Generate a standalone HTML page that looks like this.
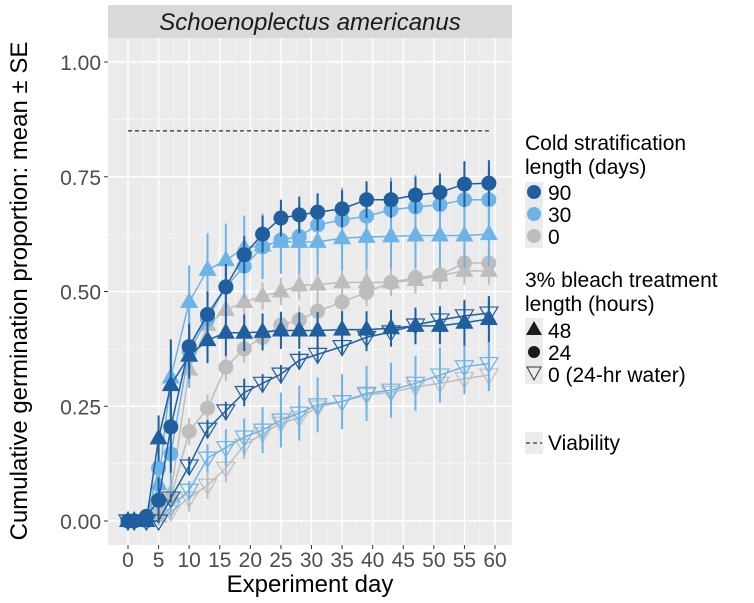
<!DOCTYPE html>
<html><head><meta charset="utf-8"><style>
body{margin:0;background:#fff;}
svg{display:block;font-family:"Liberation Sans",Arial,sans-serif;}
</style></head><body>
<svg id="chart" width="754" height="603" viewBox="0 0 754 603">
<rect x="108" y="5" width="404" height="33" fill="#d9d9d9"/>
<text x="310" y="30" text-anchor="middle" font-size="24" font-style="italic" fill="#1a1a1a">Schoenoplectus americanus</text>
<rect x="108" y="38" width="404" height="507" fill="#ebebeb"/>
<g id="grid"></g>
<g id="marks"></g>
<g id="axes"></g>
<text x="310" y="592" text-anchor="middle" font-size="24" fill="#000">Experiment day</text>
<text transform="translate(27,291) rotate(-90)" text-anchor="middle" font-size="24" fill="#000">Cumulative germination proportion: mean ± SE</text>
<g id="legend" font-size="21" fill="#000">
<text x="525" y="150">Cold stratification</text>
<text x="525" y="174">length (days)</text>
<rect x="525" y="182" width="18" height="66" fill="#ebebeb"/>
<circle cx="534" cy="192" r="7" fill="#1f5f9f"/>
<circle cx="534" cy="214" r="7" fill="#6cb3e8"/>
<circle cx="534" cy="236" r="7" fill="#bdbdbd"/>
<text x="548" y="200">90</text>
<text x="548" y="222">30</text>
<text x="548" y="244">0</text>
<text x="525" y="287">3% bleach treatment</text>
<text x="525" y="311">length (hours)</text>
<rect x="525" y="318" width="18" height="66" fill="#ebebeb"/>
<polygon points="534,321 542,335 526,335" fill="#1a1a1a"/>
<circle cx="534" cy="352" r="6" fill="#1a1a1a"/>
<polygon points="527,367 541,367 534,380" fill="none" stroke="#333" stroke-width="1"/>
<text x="548" y="338">48</text>
<text x="548" y="360">24</text>
<text x="548" y="382">0 (24-hr water)</text>
<rect x="525" y="432" width="18" height="22" fill="#ebebeb"/>
<line x1="526" y1="443" x2="542" y2="443" stroke="#000" stroke-dasharray="4,3"/>
<text x="548" y="450">Viability</text>
</g>
</svg>
<script>
const days = [0,1,3,5,7,10,13,16,19,22,25,28,31,35,39,43,47,51,55,59];
const xTicks = [0,5,10,15,20,25,30,35,40,45,50,55,60];
const yTicks = [0,0.25,0.5,0.75,1];
const yTickLabels = ["0.00","0.25","0.50","0.75","1.00"];
const viability = 0.85;
const colors = {"90":"#1f5f9f","30":"#6cb3e8","0":"#bdbdbd"};
const c90_24 = [0,0,0.01,0.045,0.205,0.38,0.45,0.51,0.58,0.625,0.66,0.667,0.673,0.68,0.70,0.70,0.71,0.716,0.734,0.736];
const c30_24 = [0,0,0,0.115,0.146,0.37,0.44,0.51,0.555,0.597,0.612,0.62,0.645,0.656,0.664,0.678,0.684,0.689,0.70,0.70];
const c0_24  = [0,0,0,0.02,0.05,0.195,0.246,0.335,0.375,0.40,0.427,0.438,0.457,0.477,0.498,0.52,0.53,0.536,0.562,0.562];
const c90_48 = [0,0,0,0.18,0.296,0.36,0.394,0.41,0.41,0.412,0.415,0.415,0.415,0.417,0.417,0.42,0.425,0.425,0.432,0.44];
const c30_48 = [0,0,0,0.08,0.313,0.477,0.547,0.568,0.595,0.60,0.608,0.608,0.608,0.616,0.619,0.62,0.622,0.622,0.622,0.625];
const c0_48  = [0,0,0,0.01,0.06,0.33,0.427,0.46,0.477,0.49,0.50,0.513,0.515,0.52,0.52,0.52,0.525,0.535,0.545,0.545];
const c90_0  = [0,0,0,0,0.05,0.12,0.20,0.24,0.28,0.30,0.32,0.35,0.363,0.38,0.40,0.412,0.427,0.438,0.447,0.453];
const c30_0  = [0,0,0,0,0.03,0.067,0.137,0.16,0.183,0.198,0.22,0.235,0.253,0.26,0.278,0.285,0.30,0.318,0.336,0.343];
const c0_0   = [0,0,0,0,0.02,0.05,0.078,0.115,0.165,0.19,0.213,0.225,0.248,0.26,0.275,0.28,0.292,0.30,0.31,0.318];
const se90 = [0,0,0.01,0.05,0.1,0.05,0.05,0.05,0.04,0.04,0.04,0.04,0.04,0.04,0.04,0.04,0.04,0.04,0.05,0.05];
const se30 = [0,0,0.01,0.05,0.08,0.08,0.08,0.08,0.07,0.07,0.07,0.07,0.07,0.07,0.07,0.07,0.07,0.07,0.07,0.07];
const se0  = [0,0,0,0.01,0.02,0.03,0.03,0.03,0.03,0.03,0.03,0.03,0.03,0.03,0.03,0.03,0.03,0.03,0.03,0.03];
const se90w = [0,0,0,0,0.01,0.02,0.02,0.02,0.03,0.02,0.02,0.02,0.02,0.02,0.03,0.03,0.03,0.03,0.03,0.03];
const se30w = [0,0,0,0,0.01,0.02,0.03,0.04,0.04,0.05,0.06,0.06,0.06,0.06,0.06,0.06,0.06,0.06,0.06,0.06];
const series = [
 {name:"cold0-water",cold:"0",shape:"down",vals:c0_0,se:se0},
 {name:"cold30-water",cold:"30",shape:"down",vals:c30_0,se:se30w},
 {name:"cold0-bleach24",cold:"0",shape:"circle",vals:c0_24,se:se0},
 {name:"cold0-bleach48",cold:"0",shape:"up",vals:c0_48,se:se0},
 {name:"cold30-bleach48",cold:"30",shape:"up",vals:c30_48,se:se30},
 {name:"cold30-bleach24",cold:"30",shape:"circle",vals:c30_24,se:se30},
 {name:"cold90-water",cold:"90",shape:"down",vals:c90_0,se:se90w},
 {name:"cold90-bleach48",cold:"90",shape:"up",vals:c90_48,se:se90},
 {name:"cold90-bleach24",cold:"90",shape:"circle",vals:c90_24,se:se90}
];
const NS="http://www.w3.org/2000/svg";
const X = d => 128 + d*(495-128)/60;
const Y = v => 521 - v*459;
function mk(tag,attrs,parent){const e=document.createElementNS(NS,tag);for(const k in attrs)e.setAttribute(k,attrs[k]);parent.appendChild(e);return e;}
const grid=document.getElementById('grid'), marks=document.getElementById('marks'), axes=document.getElementById('axes');
yTicks.forEach((t,i)=>{
  const g=mk('line',{x1:108,x2:512,y1:Y(t),y2:Y(t),stroke:'#fff','stroke-width':1.4},grid);
  
  
  if(i<yTicks.length-1){const m=mk('line',{x1:108,x2:512,y1:Y(t+0.125),y2:Y(t+0.125),stroke:'#f7f7f7','stroke-width':0.7},grid);
  
  }
  const tk=mk('line',{x1:104,x2:108,y1:Y(t),y2:Y(t),stroke:'#333'},axes);
  
  
  const lb=mk('text',{x:101,y:Y(t)+8,'text-anchor':'end','font-size':21,fill:'#4d4d4d'},axes);
  lb.textContent=yTickLabels[i];
  
  
});
for(let d=0; d<=62.5; d+=2.5){
  const major = (d%5===0);
  const g=mk('line',{x1:X(d),x2:X(d),y1:38,y2:545,stroke:major?'#fff':'#f7f7f7','stroke-width':major?1.4:0.7},grid);
  
  
}
xTicks.forEach(t=>{
  const tk=mk('line',{x1:X(t),x2:X(t),y1:545,y2:549,stroke:'#333'},axes);
  
  
  const lb=mk('text',{x:X(t),y:567,'text-anchor':'middle','font-size':21,fill:'#4d4d4d'},axes);
  lb.textContent=t;
  
  
});
const vl=mk('line',{x1:X(0),x2:X(59),y1:Y(viability),y2:Y(viability),stroke:'#000','stroke-dasharray':'4,3','stroke-width':1},marks);


series.forEach(s=>{
  const col=colors[s.cold];
  const g=mk('g',{},marks);
  
  
  s.vals.forEach((v,i)=>{
    const e=mk('line',{x1:X(days[i]),x2:X(days[i]),y1:Y(v-s.se[i]),y2:Y(v+s.se[i]),stroke:col,'stroke-width':2},g);
    
    
  });
  const ln=mk('polyline',{points:s.vals.map((v,i)=>X(days[i])+','+Y(v)).join(' '),fill:'none',stroke:col,'stroke-width':1.5},g);
  
  
  s.vals.forEach((v,i)=>{
    const x=X(days[i]), y=Y(v); let p;
    if(s.shape==='circle') p=mk('circle',{cx:x,cy:y,r:7.5,fill:col},g);
    else if(s.shape==='up') p=mk('polygon',{points:`${x},${y-10} ${x+9},${y+6} ${x-9},${y+6}`,fill:col},g);
    else p=mk('polygon',{points:`${x-9},${y-6} ${x+9},${y-6} ${x},${y+9}`,fill:'none',stroke:col,'stroke-width':1.2},g);
    
    
  });
});
</script>
</body></html>
